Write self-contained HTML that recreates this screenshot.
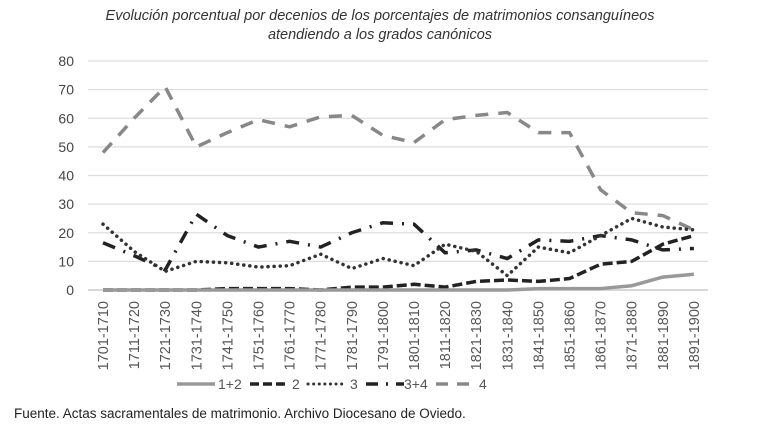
<!DOCTYPE html>
<html><head><meta charset="utf-8"><style>
body{margin:0;background:#fff;width:768px;height:435px;overflow:hidden;font-family:"Liberation Sans",sans-serif}
</style></head><body>
<svg id="s" width="768" height="435" xmlns="http://www.w3.org/2000/svg" font-family="Liberation Sans, sans-serif">
<text x="380" y="20" text-anchor="middle" font-size="14.5" font-style="italic" fill="#333">Evolución porcentual por decenios de los porcentajes de matrimonios consanguíneos</text>
<text x="380" y="39" text-anchor="middle" font-size="14.5" font-style="italic" fill="#333">atendiendo a los grados canónicos</text>
<g id="grid"></g>
<g id="lines" fill="none"></g>
<g id="xl" font-size="14.5" fill="#555"></g>
<g font-size="14" fill="#555">
<line x1="177" y1="384" x2="215" y2="384" stroke="#999" stroke-width="3.5"/>
<text x="218" y="389">1+2</text>
<line x1="250" y1="384" x2="288" y2="384" stroke="#222" stroke-width="3.5" stroke-dasharray="9,4"/>
<text x="292" y="389">2</text>
<line x1="308" y1="384" x2="346" y2="384" stroke="#333" stroke-width="3" stroke-dasharray="0.1,5.5" stroke-linecap="round"/>
<text x="350" y="389">3</text>
<line x1="366" y1="384" x2="404" y2="384" stroke="#222" stroke-width="3.5" stroke-dasharray="12,8,2,8"/>
<text x="404" y="389">3+4</text>
<line x1="436" y1="384" x2="474" y2="384" stroke="#888" stroke-width="3.5" stroke-dasharray="12,9"/>
<text x="479" y="389">4</text>
</g>
<text x="14" y="418" font-size="13.5" fill="#222">Fuente. Actas sacramentales de matrimonio. Archivo Diocesano de Oviedo.</text>
</svg>
<script>
var NS="http://www.w3.org/2000/svg";
function el(t,a,p){var e=document.createElementNS(NS,t);for(var k in a)e.setAttribute(k,a[k]);p.appendChild(e);return e;}
var g=document.getElementById('grid');
function Y(v){return 290-v*2.8625;}
function X(i){return 103+i*31.1;}
for(var v=0;v<=80;v+=10){
 el('line',{x1:88,x2:708,y1:Y(v),y2:Y(v),stroke:v==0?'#ccc':'#ddd','stroke-width':v==0?1.5:1.3},g);
 var t=el('text',{x:74,y:Y(v)+5,'text-anchor':'end','font-size':14,fill:'#444'},g);t.textContent=v;
}
var xl=document.getElementById('xl');
for(var i=0;i<20;i++){
 var a=1701+i*10,b=a+9;
 var t=el('text',{x:0,y:0,'text-anchor':'end',transform:'translate('+(X(i)+5)+',301) rotate(-90)'},xl);t.textContent=a+'-'+b;
}
var L=document.getElementById('lines');
var S=[
 {d:[48,60,71,50,55,59.5,57,60.5,61,54,51.5,59.5,61,62,55,55,35,27,26,21],s:'#888',da:'13,10'},
 {d:[16.5,12,7,26.5,19,15,17,15,20,23.5,23,13,14,11,17.5,17,19,17.5,14,14.5],s:'#222',da:'13,9,2,9'},
 {d:[23,13.5,6.5,10,9.5,8,8.5,12.5,7.5,11,8.5,16,13.5,5,15,13,19,25,22,21],s:'#333',da:'0.1,6',cap:'round',w:3.5},
 {d:[0,0,0,0,0.5,0.5,0.5,0,1,1,2,1,3,3.5,3,4,9,10,16,19],s:'#222',da:'10,4'},
 {d:[0,0,0,0,0,0,0,0,0,0,0,0,0,0,0.5,0.5,0.5,1.5,4.5,5.5],s:'#999',da:''}
];
S.forEach(function(o){
 var p=o.d.map(function(v,i){return X(i)+','+Y(v)}).join(' ');
 var a={points:p,stroke:o.s,'stroke-width':o.w||3.5,'stroke-linejoin':'round'};
 if(o.da)a['stroke-dasharray']=o.da;
 if(o.cap)a['stroke-linecap']=o.cap;
 el('polyline',a,L);
});
</script>
</body></html>
